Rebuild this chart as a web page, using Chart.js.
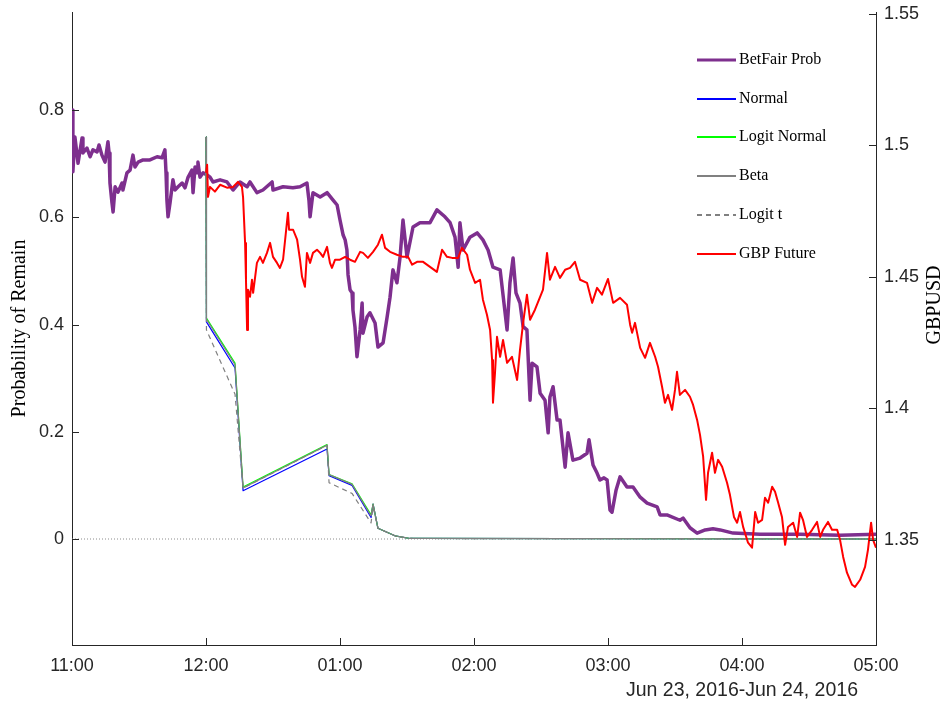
<!DOCTYPE html>
<html><head><meta charset="utf-8">
<script src="https://cdn.jsdelivr.net/npm/chart.js@4"></script>
<style>html,body{margin:0;padding:0;background:#fff;}#wrap{width:948px;height:708px;}</style>
</head><body><div id="wrap"><canvas id="c" width="948" height="708"></canvas></div>
<script>
// x values are minutes after 23:00 (Jun 23, 2016)
const xTickMinutes = [0, 60, 120, 180, 240, 300, 360];
const xTickLabels = ['11:00', '12:00', '01:00', '02:00', '03:00', '04:00', '05:00'];
const dateLabel = 'Jun 23, 2016-Jun 24, 2016';
const probTicks = [0, 0.2, 0.4, 0.6, 0.8];
const gbpTicks = [1.35, 1.4, 1.45, 1.5, 1.55];
const seriesLabels = ['BetFair Prob', 'Normal', 'Logit Normal', 'Beta', 'Logit t', 'GBP Future'];
const leftAxisTitle = 'Probability of Remain';
const rightAxisTitle = 'GBPUSD';

const betfairMin = [0,0.4,1.3,2.7,4.5,4.9,6.7,8.1,9.4,11.2,12.1,13.4,14.8,16.1,16.6,17.0,17.9,18.4,19.3,20.6,22.4,22.8,24.6,26.0,27.3,28.2,29.6,31.8,34.9,38.1,40.3,41.6,42.1,42.5,43.0,43.9,45.2,46.1,47.5,49.3,50.6,51.9,53.7,54.2,55.1,56.0,56.4,57.3,58.7,60.5,61.8,63.1,66.3,69.4,72.1,75.2,78.4,79.7,82.8,85.5,89.6,90.0,94.5,98.9,102.1,105.2,106.1,106.6,107.9,111.1,114.2,116.9,118.7,120.0,121.4,122.3,123.1,123.6,124.5,125.4,125.8,126.7,127.6,129.0,129.9,130.3,132.1,133.4,135.7,137.0,139.3,141.1,142.4,143.7,145.5,146.9,148.2,150.0,152.7,155.8,160.3,163.4,167.0,169.3,171.5,172.9,173.7,175.1,178.2,181.4,184.0,186.3,188.5,191.7,194.8,196.1,197.5,198.8,200.6,202.0,203.7,205.1,206.0,208.2,209.6,211.8,213.2,214.0,215.4,217.2,218.5,220.8,222.1,224.3,227.5,230.6,231.5,233.3,235.1,236.4,238.2,239.6,240.9,241.8,243.6,245.4,248.5,251.2,254.4,257.5,262.0,263.3,266.4,272.2,273.6,276.7,279.9,283.5,287.0,290.2,296.0,308.1,326.0,343.9,360.0];
const betfairProb = [0.800,0.685,0.750,0.701,0.748,0.720,0.729,0.713,0.726,0.722,0.735,0.716,0.703,0.741,0.720,0.664,0.627,0.610,0.657,0.647,0.664,0.651,0.683,0.688,0.716,0.694,0.703,0.707,0.707,0.713,0.711,0.726,0.683,0.632,0.601,0.627,0.670,0.651,0.657,0.664,0.655,0.674,0.688,0.646,0.694,0.683,0.703,0.675,0.683,0.679,0.675,0.666,0.670,0.666,0.651,0.666,0.657,0.666,0.646,0.651,0.666,0.651,0.657,0.655,0.657,0.664,0.632,0.601,0.646,0.638,0.646,0.632,0.623,0.595,0.567,0.558,0.539,0.493,0.465,0.459,0.427,0.396,0.340,0.390,0.440,0.384,0.414,0.422,0.403,0.358,0.366,0.414,0.451,0.502,0.478,0.526,0.595,0.526,0.582,0.590,0.590,0.614,0.601,0.590,0.563,0.507,0.590,0.539,0.563,0.571,0.558,0.539,0.507,0.502,0.390,0.478,0.524,0.459,0.440,0.396,0.390,0.259,0.328,0.321,0.272,0.259,0.198,0.265,0.284,0.222,0.222,0.134,0.198,0.147,0.151,0.160,0.185,0.138,0.123,0.110,0.114,0.110,0.054,0.050,0.091,0.116,0.097,0.097,0.078,0.067,0.060,0.045,0.045,0.035,0.039,0.021,0.011,0.017,0.019,0.017,0.011,0.009,0.009,0.007,0.009];

const gbpMin = [60.0,60.5,60.9,61.8,64.0,66.3,69.4,72.1,74.3,76.1,76.6,77.5,77.9,78.4,78.8,79.7,80.6,81.1,82.8,84.2,85.5,87.3,88.7,90.0,91.8,93.1,94.5,96.7,97.2,99.0,100.8,102.1,103.0,104.3,105.2,106.6,107.9,109.7,111.1,112.4,114.2,115.5,116.4,117.8,120.0,122.3,124.5,126.7,129.0,130.3,132.5,134.8,137.0,138.8,140.2,142.4,145.5,148.2,150.5,152.3,154.5,157.2,160.3,163.4,165.7,167.9,170.2,172.9,174.6,176.9,178.2,180.5,182.7,184.0,185.8,187.2,188.1,188.5,189.4,190.3,191.7,193.0,194.8,197.0,199.3,200.6,202.0,203.7,205.1,207.3,209.6,210.9,212.7,214.0,216.3,218.5,220.8,223.0,225.2,227.5,230.6,232.9,235.1,237.3,240.0,242.3,245.4,248.5,249.9,250.8,252.1,254.4,256.6,258.8,261.1,262.4,264.2,265.5,266.9,268.7,270.0,270.9,272.2,274.5,276.7,278.1,279.9,281.2,282.6,283.9,284.8,286.6,287.9,289.3,291.1,293.3,294.6,296.4,297.8,299.1,300.5,302.7,304.5,305.9,307.2,309.0,310.3,311.7,313.5,314.8,316.1,317.9,319.3,320.6,322.9,324.7,326.0,327.3,329.1,331.4,333.6,335.0,336.3,338.5,340.3,342.6,343.9,345.3,347.0,349.3,350.6,352.9,355.1,356.4,357.8,358.7,360.0];
const gbpFuture = [1.4895,1.4926,1.4804,1.4842,1.4824,1.4850,1.4839,1.4842,1.4861,1.4842,1.4802,1.4629,1.4489,1.4298,1.4451,1.4424,1.4489,1.4439,1.4553,1.4576,1.4553,1.4591,1.4629,1.4576,1.4553,1.4534,1.4565,1.4744,1.4679,1.4679,1.4641,1.4565,1.4500,1.4462,1.4591,1.4553,1.4591,1.4603,1.4591,1.4576,1.4614,1.4553,1.4534,1.4565,1.4565,1.4576,1.4565,1.4557,1.4595,1.4591,1.4572,1.4595,1.4622,1.4660,1.4610,1.4595,1.4584,1.4576,1.4576,1.4546,1.4557,1.4557,1.4538,1.4519,1.4603,1.4576,1.4572,1.4572,1.4610,1.4584,1.4527,1.4477,1.4489,1.4413,1.4356,1.4298,1.4184,1.4021,1.4135,1.4272,1.4196,1.4260,1.4173,1.4196,1.4108,1.4222,1.4325,1.4432,1.4337,1.4375,1.4424,1.4451,1.4591,1.4489,1.4538,1.4496,1.4527,1.4534,1.4557,1.4489,1.4477,1.4401,1.4458,1.4432,1.4492,1.4401,1.4420,1.4394,1.4318,1.4287,1.4325,1.4230,1.4192,1.4249,1.4196,1.4158,1.4082,1.4021,1.4051,1.3994,1.4070,1.4139,1.4051,1.4070,1.4044,1.4013,1.3956,1.3899,1.3816,1.3652,1.3755,1.3831,1.3755,1.3804,1.3778,1.3717,1.3671,1.3587,1.3565,1.3606,1.3549,1.3489,1.3470,1.3606,1.3565,1.3576,1.3660,1.3641,1.3702,1.3683,1.3644,1.3587,1.3481,1.3549,1.3565,1.3511,1.3603,1.3576,1.3511,1.3538,1.3568,1.3511,1.3538,1.3568,1.3538,1.3538,1.3500,1.3435,1.3375,1.3329,1.3321,1.3348,1.3397,1.3462,1.3565,1.3500,1.3470];

const modelMin = [60.0,60.2,73.0,76.6,114.2,115.1,125.4,133.9,134.8,137.0,144.6,151.4,360.0];
const normalProb = [0.750,0.405,0.319,0.090,0.168,0.118,0.100,0.040,0.065,0.020,0.006,0.001,0];
const logitNormalProb = [0.750,0.412,0.328,0.097,0.176,0.120,0.103,0.045,0.065,0.020,0.006,0.001,0];
const betaProb = [0.750,0.410,0.325,0.095,0.175,0.120,0.102,0.043,0.065,0.020,0.006,0.001,0];
const logitTProb = [0.750,0.390,0.270,0.095,0.175,0.105,0.085,0.030,0.060,0.020,0.006,0.001,0];

const zeroLineMin = [0, 360];
const zeroLineProb = [0, 0];

const pts = (xs, ys) => xs.map((x, i) => ({x: x, y: ys[i]}));
const AXC = '#262626';

const datasets = [
  {label: seriesLabels[0], data: pts(betfairMin, betfairProb), yAxisID: 'y', borderColor: 'rgb(126,47,142)', borderWidth: 3.5, order: 6},
  {label: seriesLabels[1], data: pts(modelMin, normalProb), yAxisID: 'y', borderColor: 'rgb(0,0,255)', borderWidth: 1.2, order: 5},
  {label: seriesLabels[2], data: pts(modelMin, logitNormalProb), yAxisID: 'y', borderColor: 'rgb(0,255,0)', borderWidth: 1.2, order: 4},
  {label: seriesLabels[3], data: pts(modelMin, betaProb), yAxisID: 'y', borderColor: 'rgb(128,128,128)', borderWidth: 1.2, order: 3},
  {label: seriesLabels[4], data: pts(modelMin, logitTProb), yAxisID: 'y', borderColor: 'rgb(128,128,128)', borderWidth: 1.2, borderDash: [5, 4], order: 2},
  {label: seriesLabels[5], data: pts(gbpMin, gbpFuture), yAxisID: 'y2', borderColor: 'rgb(255,0,0)', borderWidth: 2, order: 1},
  {label: '_zero', data: pts(zeroLineMin, zeroLineProb), yAxisID: 'y', borderColor: 'rgb(140,140,140)', borderWidth: 1, borderDash: [1, 2], order: 7}
];
datasets.forEach(d => { d.pointRadius = 0; d.fill = false; d.tension = 0; d.borderJoinStyle = 'round'; d.backgroundColor = d.borderColor; });

const decor = {
  id: 'decor',
  afterDraw(chart) {
    const ctx = chart.ctx, a = chart.chartArea;
    const xs = chart.scales.x, ys = chart.scales.y, y2 = chart.scales.y2;
    ctx.save();
    ctx.strokeStyle = AXC; ctx.lineWidth = 1; ctx.setLineDash([]);
    ctx.beginPath();
    probTicks.forEach(v => { const p = Math.round(ys.getPixelForValue(v)) + 0.5; ctx.moveTo(a.left, p); ctx.lineTo(a.left + 7, p); });
    gbpTicks.forEach(v => { const p = Math.round(y2.getPixelForValue(v)) + 0.5; ctx.moveTo(a.right, p); ctx.lineTo(a.right - 7, p); });
    xTickMinutes.forEach(v => { const p = Math.round(xs.getPixelForValue(v)) + 0.5; ctx.moveTo(p, a.bottom); ctx.lineTo(p, a.bottom - 7); });
    ctx.stroke();

    // legend
    const lx0 = 697, lx1 = 736, ly0 = 60, ldy = 38.7;
    ctx.font = '16px "Liberation Serif"';
    ctx.textBaseline = 'middle'; ctx.textAlign = 'left';
    chart.data.datasets.slice(0, 6).forEach((d, i) => {
      const yy = Math.round(ly0 + i * ldy);
      ctx.strokeStyle = d.borderColor; ctx.lineWidth = i === 0 ? 3 : 2;
      ctx.setLineDash(d.borderDash || []);
      ctx.beginPath(); ctx.moveTo(lx0, yy); ctx.lineTo(lx1, yy); ctx.stroke();
      ctx.setLineDash([]);
      ctx.fillStyle = '#000';
      ctx.fillText(d.label, lx1 + 3, yy);
    });

    // axis titles
    ctx.fillStyle = '#000';
    ctx.font = '20px "Liberation Serif"';
    ctx.textAlign = 'center'; ctx.textBaseline = 'middle';
    ctx.save(); ctx.translate(20, (a.top + a.bottom) / 2); ctx.rotate(-Math.PI / 2); ctx.fillText(leftAxisTitle, 0, 0); ctx.restore();
    ctx.save(); ctx.translate(935, 305); ctx.rotate(-Math.PI / 2); ctx.fillText(rightAxisTitle, 0, 0); ctx.restore();

    // date label
    ctx.fillStyle = AXC;
    ctx.font = '19.5px "Liberation Sans"';
    ctx.textAlign = 'right';
    ctx.fillText(dateLabel, 858, 691);
    ctx.restore();
  }
};

const tickFont = {family: '"Liberation Sans", Arial, sans-serif', size: 18};
const noPad = s => { s.paddingTop = 0; s.paddingBottom = 0; };

new Chart(document.getElementById('c'), {
  type: 'line',
  data: {datasets: datasets},
  options: {
    responsive: false, animation: false, devicePixelRatio: 1,
    layout: {padding: {top: 12, left: 0, right: 0, bottom: 0}},
    plugins: {legend: {display: false}, tooltip: {enabled: false}},
    scales: {
      x: {
        type: 'linear', min: 0, max: 360,
        grid: {display: false, drawTicks: false},
        border: {display: true, color: AXC, width: 1},
        afterBuildTicks: s => { s.ticks = xTickMinutes.map(v => ({value: v})); },
        afterFit: s => { s.height = 63; s.paddingLeft = 0; s.paddingRight = 0; },
        ticks: {color: AXC, font: tickFont, padding: 10, maxRotation: 0, autoSkip: false,
          callback: (v, i) => xTickLabels[i]}
      },
      y: {
        type: 'linear', position: 'left', min: -0.1977, max: 0.983,
        grid: {display: false, drawTicks: false},
        border: {display: true, color: AXC, width: 1},
        afterBuildTicks: s => { s.ticks = probTicks.map(v => ({value: v})); },
        afterFit: s => { s.width = 72; noPad(s); },
        ticks: {color: AXC, font: tickFont, padding: 8, callback: v => String(Math.round(v * 10) / 10)}
      },
      y2: {
        type: 'linear', position: 'right', min: 1.31, max: 1.5507,
        grid: {display: false, drawTicks: false},
        border: {display: true, color: AXC, width: 1},
        afterBuildTicks: s => { s.ticks = gbpTicks.map(v => ({value: v})); },
        afterFit: s => { s.width = 72; noPad(s); },
        ticks: {color: AXC, font: tickFont, padding: 8, callback: v => String(Math.round(v * 100) / 100)}
      }
    }
  },
  plugins: [decor]
});
</script></body></html>
